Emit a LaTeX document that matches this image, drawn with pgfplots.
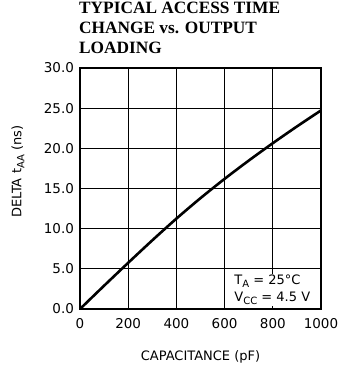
\documentclass[border=0pt]{standalone}
\usepackage{fontspec}
\setmainfont{DejaVu Sans}
\newfontfamily\titlefont{Liberation Serif}
\usepackage{pgfplots}
\pgfplotsset{compat=1.18}
\newcommand\sub[1]{\raisebox{-3pt}{\fontsize{10}{12}\selectfont #1}}
\begin{document}
\begin{tikzpicture}[x=1pt,y=1pt]
\path[use as bounding box] (0,0) rectangle (340,370);
\begin{axis}[
  at={(80pt,61pt)}, anchor=south west,
  scale only axis, width=241pt, height=241pt,
  xmin=0, xmax=1000, ymin=0, ymax=30,
  xtick={0,200,...,1000}, ytick={0,5,...,30},
  grid=major, grid style={black, line width=0.7pt},
  axis line style={line width=1.5pt},
  major tick length=0pt,
  /pgf/number format/assume math mode=true,
  ticklabel style={font=\fontsize{13.5}{15}\selectfont},
  xticklabel style={yshift=-6pt, /pgf/number format/.cd, fixed, 1000 sep={}},
  yticklabel style={xshift=-2.5pt, /pgf/number format/.cd, fixed, fixed zerofill, precision=1},
  xlabel={CAPACITANCE (pF)},
  xlabel style={font=\fontsize{13}{15}\selectfont, at={(axis description cs:0.5,-0.199)}, anchor=center},
  ylabel={DELTA t\sub{AA} (ns)},
  ylabel style={font=\fontsize{13}{15}\selectfont, at={(axis description cs:-0.257,0.57)}, anchor=center},
  title={TYPICAL ACCESS TIME\\CHANGE vs. OUTPUT\\LOADING},
  title style={font=\titlefont\bfseries\fontsize{17.3}{20}\selectfont, align=left, inner sep=0pt, at={(axis description cs:0,1)}, anchor=south west, xshift=-1pt, yshift=8pt},
]
\addplot[black, line width=2.6pt, smooth] coordinates {
(0,0) (100,2.9) (200,5.75) (300,8.55) (400,11.25) (500,13.8) (600,16.2) (700,18.47) (800,20.64) (900,22.72) (1000,24.72)
};
\node[fill=white, inner sep=1pt, align=left, anchor=south east, font=\fontsize{13}{17}\selectfont] at (rel axis cs:0.96,0.012) {T\sub{A} = 25°C\\V\sub{CC} = 4.5 V};
\end{axis}
\end{tikzpicture}
\end{document}
